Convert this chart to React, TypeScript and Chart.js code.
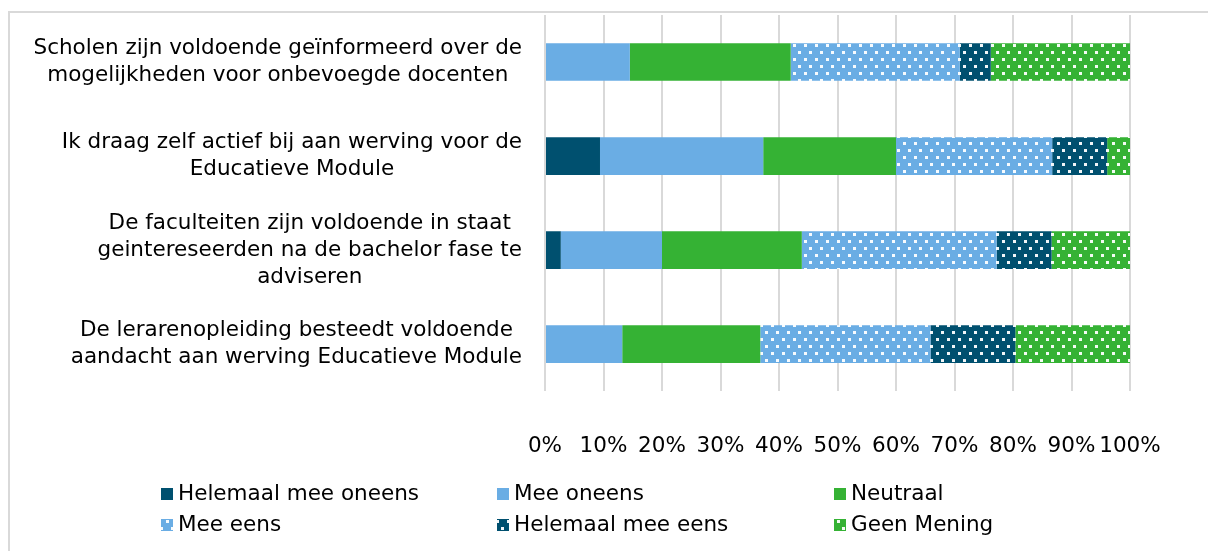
import React, { useEffect, useRef } from "react";
import { Chart, registerables } from "chart.js";

Chart.register(...registerables);

const categories: string[][] = [
  ["Scholen zijn voldoende geïnformeerd over de", "mogelijkheden voor onbevoegde docenten"],
  ["Ik draag zelf actief bij aan werving voor de", "Educatieve Module"],
  ["De faculteiten zijn voldoende in staat", "geintereseerden na de bachelor fase te", "adviseren"],
  ["De lerarenopleiding besteedt voldoende", "aandacht aan werving Educatieve Module"],
];

const seriesNames = [
  "Helemaal mee oneens",
  "Mee oneens",
  "Neutraal",
  "Mee eens",
  "Helemaal mee eens",
  "Geen Mening",
];

const helemaalMeeOneens = [0, 9.4, 2.7, 0];
const meeOneens = [14.5, 27.9, 17.3, 13.2];
const neutraal = [27.5, 22.7, 23.9, 23.6];
const meeEens = [28.9, 26.7, 33.3, 29.1];
const helemaalMeeEens = [5.3, 9.4, 9.4, 14.5];
const geenMening = [23.8, 3.9, 13.4, 19.6];

const xTickValues = [0, 10, 20, 30, 40, 50, 60, 70, 80, 90, 100];

const DARK = "#00506F";
const LIGHT = "#6AADE4";
const GREEN = "#35B234";
const FONT = "'DejaVu Sans', Verdana, sans-serif";
const FS = 21.5;

function makePattern(base: string): CanvasPattern | string {
  const c = document.createElement("canvas");
  c.width = 11;
  c.height = 14;
  const g = c.getContext("2d");
  if (!g) return base;
  g.fillStyle = base;
  g.fillRect(0, 0, 11, 14);
  g.fillStyle = "rgba(255,255,255,0.95)";
  g.fillRect(1, 2, 3, 3);
  g.fillRect(6, 9, 3, 3);
  const p = g.createPattern(c, "repeat");
  return p || base;
}

export default function App() {
  const ref = useRef<HTMLCanvasElement | null>(null);

  useEffect(() => {
    if (!ref.current) return;
    const fills: (string | CanvasPattern)[] = [
      DARK,
      LIGHT,
      GREEN,
      makePattern(LIGHT),
      makePattern(DARK),
      makePattern(GREEN),
    ];
    const values = [helemaalMeeOneens, meeOneens, neutraal, meeEens, helemaalMeeEens, geenMening];

    const customPlugin = {
      id: "customLabelsLegend",
      afterDraw(chart: any) {
        const ctx = chart.ctx as CanvasRenderingContext2D;
        const yScale = chart.scales.y;
        ctx.save();
        ctx.font = `${FS}px ${FONT}`;
        ctx.fillStyle = "#000";
        ctx.textBaseline = "middle";
        ctx.textAlign = "center";
        const lineH = 27;
        const rightEdge = 522;
        categories.forEach((lines, i) => {
          const cy = yScale.getPixelForValue(i);
          const maxW = Math.max(...lines.map((l) => ctx.measureText(l).width));
          const cx = rightEdge - maxW / 2;
          const startY = cy - ((lines.length - 1) * lineH) / 2;
          lines.forEach((l, j) => ctx.fillText(l, cx, startY + j * lineH));
        });

        // legend
        const cols = [161, 497, 834];
        const rows = [494, 525];
        ctx.textAlign = "left";
        seriesNames.forEach((name, i) => {
          const x = cols[i % 3];
          const y = rows[Math.floor(i / 3)];
          ctx.fillStyle = fills[i] as any;
          ctx.fillRect(x, y - 6, 12, 12);
          ctx.fillStyle = "#000";
          ctx.fillText(name, x + 17, y);
        });
        ctx.restore();
      },
    };

    const chart = new Chart(ref.current, {
      type: "bar",
      data: {
        labels: categories.map((c) => c.join(" ")),
        datasets: seriesNames.map((name, i) => ({
          label: name,
          data: values[i],
          backgroundColor: fills[i] as any,
          borderWidth: 0,
          categoryPercentage: 1,
          barPercentage: 0.4,
        })),
      },
      options: {
        indexAxis: "y",
        animation: false,
        responsive: false,
        devicePixelRatio: 1,
        layout: { padding: { left: 545, right: 78, top: 15, bottom: 50 } },
        plugins: {
          legend: { display: false },
          tooltip: { enabled: false },
        },
        scales: {
          x: {
            stacked: true,
            min: 0,
            max: 100,
            afterBuildTicks: (axis: any) => {
              axis.ticks = xTickValues.map((v) => ({ value: v }));
            },
            grid: { color: "#D9D9D9", lineWidth: 2, drawTicks: false },
            border: { display: false },
            ticks: {
              autoSkip: false,
              maxRotation: 0,
              minRotation: 0,
              padding: 42,
              color: "#000",
              font: { family: FONT, size: FS },
              callback: (v: any) => `${v}%`,
            },
          },
          y: {
            stacked: true,
            display: false,
          },
        },
      },
      plugins: [customPlugin],
    });
    return () => chart.destroy();
  }, []);

  return (
    <div
      style={{
        position: "fixed",
        left: 0,
        top: 0,
        width: 1208,
        height: 551,
        overflow: "hidden",
        background: "#fff",
      }}
    >
      <div
        style={{
          position: "absolute",
          left: 8,
          top: 11,
          width: 1300,
          height: 700,
          borderTop: "2px solid #D9D9D9",
          borderLeft: "2px solid #D9D9D9",
        }}
      />
      <canvas
        ref={ref}
        width={1208}
        height={551}
        style={{ position: "absolute", left: 0, top: 0, width: 1208, height: 551 }}
      />
    </div>
  );
}
